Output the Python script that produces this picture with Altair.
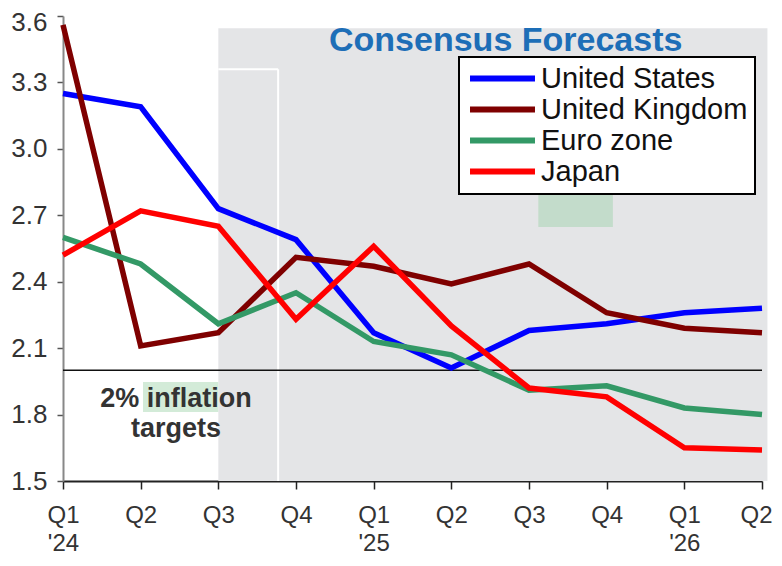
import json
import altair as alt
import pandas as pd

# ---- data ----
quarters = ["Q1", "Q2", "Q3", "Q4", "Q1", "Q2", "Q3", "Q4", "Q1", "Q2"]
years = ["'24", "", "", "", "'25", "", "", "", "'26", ""]
series_names = ["United States", "United Kingdom", "Euro zone", "Japan"]
us = [3.25, 3.19, 2.73, 2.59, 2.17, 2.01, 2.18, 2.21, 2.26, 2.28]
uk = [3.56, 2.11, 2.17, 2.51, 2.47, 2.39, 2.48, 2.26, 2.19, 2.17]
ez = [2.60, 2.48, 2.21, 2.35, 2.13, 2.07, 1.91, 1.93, 1.83, 1.80]
jp = [2.52, 2.72, 2.65, 2.23, 2.56, 2.20, 1.92, 1.88, 1.65, 1.64]
colors = ["#0000ff", "#7f0000", "#339966", "#ff0000"]
y_ticks = [1.5, 1.8, 2.1, 2.4, 2.7, 3.0, 3.3, 3.6]
target = 2.0

# annotation / shading extents (in data units)
forecast_start = [2.0]
forecast_end = [9.07]
forecast_top = [3.545]
white_box_right = [2.77]
white_box_top = [3.36]
title_text = ["Consensus Forecasts"]
title_pos = [5.70, 3.44]
note_lines = ["2% inflation", "targets"]
note_x = [1.455, 1.455]
note_y = [1.836, 1.700]
hl_inflation = [1.03, 2.0, 1.812, 1.947]
hl_box = [6.12, 7.08, 2.647, 2.837]

rows = []
for name, vals in zip(series_names, [us, uk, ez, jp]):
    for i, v in enumerate(vals):
        rows.append({"idx": i, "value": v, "series": name})
df = pd.DataFrame(rows)

xscale = alt.Scale(domain=[0, 9], nice=False, zero=False)
yscale = alt.Scale(domain=[1.5, 3.6], nice=False, zero=False)

label_expr = "[" + json.dumps(quarters) + "[datum.value], " + json.dumps(years) + "[datum.value]]"

x_axis = alt.Axis(
    values=list(range(10)), labelExpr=label_expr, title=None, grid=False,
    tickSize=8, tickColor="#222", tickWidth=1.5, domainColor="#222", domainWidth=2,
    labelFont="Liberation Sans Narrow, Liberation Sans", labelFontSize=24, labelColor="#333",
    labelPadding=14, labelLineHeight=28, labelOverlap=False, labelFlush=False,
    labelOffset={"condition": {"test": "datum.value == 9", "value": -6}, "value": 0},
)
y_axis = alt.Axis(
    values=y_ticks, format=".1f", title=None, grid=False,
    tickSize=6, tickColor="#555", tickWidth=1.5, domainColor="#888", domainWidth=2,
    labelFont="Liberation Sans Narrow, Liberation Sans", labelFontSize=26, labelColor="#333",
    labelPadding=10,
    labelOffset={"condition": {"test": "datum.value == 3.6", "value": 6}, "value": 0},
)

shade_df = pd.DataFrame({"x": forecast_start, "x2": forecast_end, "y": forecast_top, "y2": [1.5]})
shade = alt.Chart(shade_df).mark_rect(color="#e4e5e7").encode(
    x=alt.X("x:Q", scale=xscale, axis=x_axis), x2="x2:Q",
    y=alt.Y("y:Q", scale=yscale, axis=y_axis), y2="y2:Q",
)

wv_df = pd.DataFrame({"x": white_box_right, "y": white_box_top, "y2": [1.5]})
white_v = alt.Chart(wv_df).mark_rule(color="white", strokeWidth=2).encode(
    x=alt.X("x:Q", scale=xscale), y=alt.Y("y:Q", scale=yscale), y2="y2:Q"
)
wh_df = pd.DataFrame({"x": forecast_start, "x2": white_box_right, "y": white_box_top})
white_h = alt.Chart(wh_df).mark_rule(color="white", strokeWidth=2).encode(
    x=alt.X("x:Q", scale=xscale), x2="x2:Q", y=alt.Y("y:Q", scale=yscale)
)

hl1_df = pd.DataFrame({"x": [hl_inflation[0]], "x2": [hl_inflation[1]], "y": [hl_inflation[2]], "y2": [hl_inflation[3]]})
hl1 = alt.Chart(hl1_df).mark_rect(color="#d3ebd8").encode(
    x=alt.X("x:Q", scale=xscale), x2="x2:Q", y=alt.Y("y:Q", scale=yscale), y2="y2:Q"
)
hl2_df = pd.DataFrame({"x": [hl_box[0]], "x2": [hl_box[1]], "y": [hl_box[2]], "y2": [hl_box[3]]})
hl2 = alt.Chart(hl2_df).mark_rect(color="#c3dccb").encode(
    x=alt.X("x:Q", scale=xscale), x2="x2:Q", y=alt.Y("y:Q", scale=yscale), y2="y2:Q"
)

target_df = pd.DataFrame({"x": [0], "x2": [9], "y": [target]})
target_rule = alt.Chart(target_df).mark_rule(color="#111", strokeWidth=1.5).encode(
    x=alt.X("x:Q", scale=xscale), x2="x2:Q", y=alt.Y("y:Q", scale=yscale)
)

lines = alt.Chart(df).mark_line(strokeWidth=5.5).encode(
    x=alt.X("idx:Q", scale=xscale),
    y=alt.Y("value:Q", scale=yscale),
    color=alt.Color(
        "series:N",
        scale=alt.Scale(domain=series_names, range=colors),
        legend=alt.Legend(
            title=None, orient="none", legendX=396, legendY=41,
            symbolType="M-4,0H4", symbolSize=264, symbolStrokeWidth=6,
            symbolOffset=22, labelOffset=24, labelLimit=320,
            labelFont="Liberation Sans", labelFontSize=29, labelColor="#111",
            fillColor="white", strokeColor="black", padding=7, rowPadding=1,
        ),
    ),
    order=alt.Order("idx:Q"),
    detail="series:N",
)

title_df = pd.DataFrame({"x": [title_pos[0]], "y": [title_pos[1]], "t": title_text})
title = alt.Chart(title_df).mark_text(
    font="Liberation Sans", fontSize=34, fontWeight="bold", color="#1d6eb7",
    align="center", baseline="alphabetic",
).encode(x=alt.X("x:Q", scale=xscale), y=alt.Y("y:Q", scale=yscale), text="t:N")

note_df = pd.DataFrame({"x": note_x, "y": note_y, "t": note_lines})
note = alt.Chart(note_df).mark_text(
    font="Liberation Sans", fontSize=27, fontWeight="bold", color="#333",
    align="center", baseline="alphabetic",
).encode(x=alt.X("x:Q", scale=xscale), y=alt.Y("y:Q", scale=yscale), text="t:N")

chart = alt.layer(
    shade, white_v, white_h, hl1, hl2, target_rule, lines, title, note
).properties(
    width=699, height=465,
    autosize=alt.AutoSizeParams(type="none"),
    padding={"left": 55, "top": 8, "right": 12, "bottom": 77},
).configure_view(stroke=None).configure_legend(strokeWidth=2)

chart.save("out.html", embed_options={"renderer": "svg", "actions": False})
